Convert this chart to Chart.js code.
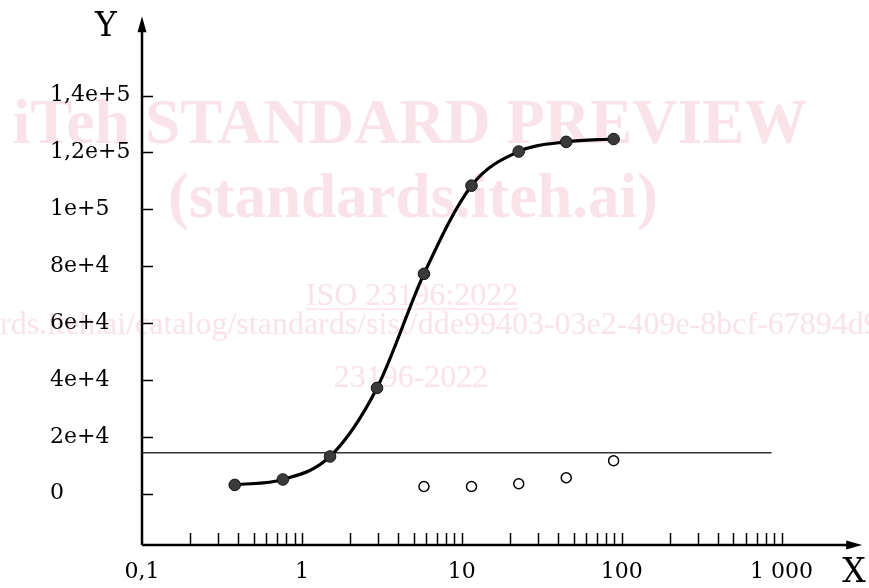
<!DOCTYPE html>
<html>
<head>
<meta charset="utf-8">
<title>Sigmoid curve</title>
<script src="https://cdn.jsdelivr.net/npm/chart.js@4/dist/chart.umd.min.js"></script>
<style>
    html, body { margin: 0; padding: 0; background: #fff; }
    #wrap { width: 869px; height: 588px; position: relative; }
</style>
</head>
<body>
<div id="wrap"><canvas id="curveChart"></canvas></div>
<script>
// Measured series (x on log scale)
const curveX = [0.38, 0.76, 1.5, 2.95, 5.8, 11.5, 22.7, 45, 89];
const curveY = [3100, 5000, 13100, 37200, 77300, 108300, 120300, 123700, 124700];

const openX = [5.8, 11.5, 22.7, 45, 89];
const openY = [2550, 2550, 3500, 5600, 11600];

const limitX = [0.1, 865];
const limitY = [14400, 14400];

const xTickValues = [0.1, 1, 10, 100, 1000];
const xTickLabels = ['0,1', '1', '10', '100', '1 000'];
const yTickValues = [0, 20000, 40000, 60000, 80000, 100000, 120000, 140000];
const yTickLabels = ['0', '2e+4', '4e+4', '6e+4', '8e+4', '1e+5', '1,2e+5', '1,4e+5'];

const xRange = [0.1, 3192];
const yRange = [-18030, 167880];

const labelFont = { family: 'DejaVu Serif', size: 22 };

function toPoints(xs, ys) {
    return xs.map((x, i) => ({ x: x, y: ys[i] }));
}

// pale watermark behind the chart
const watermarkPlugin = {
    id: 'watermark',
    beforeDraw(chart) {
        const ctx = chart.ctx;
        ctx.save();
        ctx.fillStyle = '#fae2e9';
        ctx.strokeStyle = '#fae2e9';
        ctx.textBaseline = 'alphabetic';
        ctx.textAlign = 'center';
        ctx.font = 'bold 63px "Liberation Serif"';
        ctx.fillText('iTeh STANDARD PREVIEW', 410, 143);
        ctx.fillText('(standards.iteh.ai)', 413, 217);

        ctx.font = '32px "Liberation Serif"';
        ctx.fillText('ISO 23196:2022', 412, 305);
        const w = ctx.measureText('ISO 23196:2022').width;
        ctx.lineWidth = 1.5;
        ctx.beginPath();
        ctx.moveTo(412 - w / 2, 309);
        ctx.lineTo(412 + w / 2, 309);
        ctx.stroke();

        ctx.textAlign = 'left';
        const url = 'https://standards.iteh.ai/catalog/standards/sist/dde99403-03e2-409e-8bcf-67894d9f3b1c/iso-';
        const skip = ctx.measureText('https://standa').width;
        ctx.fillText(url, -skip, 334);

        ctx.textAlign = 'center';
        ctx.fillText('23196-2022', 411, 387);
        ctx.restore();
    }
};

// axes with arrows, inward ticks, axis letters
const axesPlugin = {
    id: 'arrowAxes',
    afterDraw(chart) {
        const ctx = chart.ctx;
        const area = chart.chartArea;
        const xs = chart.scales.x;
        const ys = chart.scales.y;
        const x0 = area.left;
        const y0 = area.bottom;

        ctx.save();
        ctx.strokeStyle = '#000';
        ctx.fillStyle = '#000';

        // minor + major ticks on x
        ctx.lineWidth = 1.5;
        ctx.beginPath();
        for (let d = 0.1; d < 1000; d *= 10) {
            for (let k = 1; k <= 10; k++) {
                const v = d * k;
                if (v <= xRange[0] || v > 1000.5) continue;
                const px = Math.round(xs.getPixelForValue(v)) + 0.5;
                ctx.moveTo(px, y0);
                ctx.lineTo(px, y0 - 12);
            }
        }
        // ticks on y
        yTickValues.forEach(v => {
            const py = Math.round(ys.getPixelForValue(v)) + 0.5;
            ctx.moveTo(x0, py);
            ctx.lineTo(x0 + 11, py);
        });
        ctx.stroke();

        // axis lines
        ctx.lineWidth = 2.5;
        ctx.beginPath();
        ctx.moveTo(x0, y0);
        ctx.lineTo(x0, area.top + 10);
        ctx.moveTo(x0, y0);
        ctx.lineTo(area.right - 10, y0);
        ctx.stroke();

        // arrow heads
        ctx.beginPath();
        ctx.moveTo(x0, area.top);
        ctx.lineTo(x0 - 4.5, area.top + 16);
        ctx.lineTo(x0 + 4.5, area.top + 16);
        ctx.closePath();
        ctx.fill();
        ctx.beginPath();
        ctx.moveTo(area.right, y0);
        ctx.lineTo(area.right - 16, y0 - 4.5);
        ctx.lineTo(area.right - 16, y0 + 4.5);
        ctx.closePath();
        ctx.fill();

        // axis letters
        ctx.font = '33px "DejaVu Serif"';
        ctx.textAlign = 'center';
        ctx.textBaseline = 'middle';
        ctx.fillText('Y', 106, 27);
        ctx.fillText('X', 854, 573);
        ctx.restore();
    }
};

document.addEventListener('DOMContentLoaded', function() {
    const ctx = document.getElementById('curveChart');

    new Chart(ctx, {
        type: 'scatter',
        data: {
            datasets: [{
                label: 'limit',
                data: toPoints(limitX, limitY),
                showLine: true,
                borderColor: '#333',
                borderWidth: 1.5,
                pointRadius: 0,
                order: 3
            }, {
                label: 'curve',
                data: toPoints(curveX, curveY),
                showLine: true,
                cubicInterpolationMode: 'monotone',
                borderColor: '#000',
                borderWidth: 3.2,
                pointRadius: 5.8,
                pointBackgroundColor: '#3a3a3a',
                pointBorderColor: '#111',
                pointBorderWidth: 1,
                order: 1
            }, {
                label: 'open',
                data: toPoints(openX, openY),
                showLine: false,
                pointRadius: 5,
                pointBackgroundColor: '#fff',
                pointBorderColor: '#000',
                pointBorderWidth: 1.5,
                order: 2
            }]
        },
        options: {
            responsive: true,
            maintainAspectRatio: false,
            animation: false,
            layout: { padding: { left: 50, right: 4, top: 12, bottom: 0 } },
            plugins: {
                legend: { display: false },
                tooltip: { enabled: false }
            },
            scales: {
                x: {
                    type: 'logarithmic',
                    min: xRange[0],
                    max: xRange[1],
                    grid: { display: false },
                    border: { display: false },
                    afterBuildTicks: scale => {
                        scale.ticks = xTickValues.map(v => ({ value: v }));
                    },
                    afterFit: scale => { scale.height = 43; },
                    ticks: {
                        autoSkip: false,
                        maxRotation: 0,
                        padding: 6,
                        color: '#000',
                        font: labelFont,
                        callback: (value, index) => xTickLabels[index]
                    }
                },
                y: {
                    type: 'linear',
                    min: yRange[0],
                    max: yRange[1],
                    grid: { display: false },
                    border: { display: false },
                    afterBuildTicks: scale => {
                        scale.ticks = yTickValues.map(v => ({ value: v }));
                    },
                    afterFit: scale => { scale.width = 92; },
                    ticks: {
                        crossAlign: 'far',
                        color: '#000',
                        font: labelFont,
                        callback: (value, index) => yTickLabels[index]
                    }
                }
            }
        },
        plugins: [watermarkPlugin, axesPlugin]
    });
});
</script>
</body>
</html>
